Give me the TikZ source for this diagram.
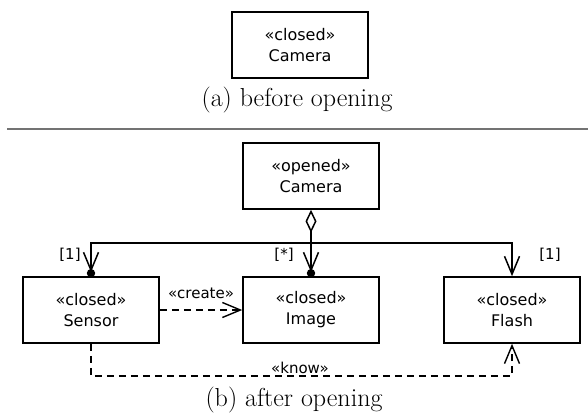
\documentclass[tikz,border=0pt]{standalone}
\usepackage{fontspec}
\newfontfamily\umlfont{DejaVu Sans}
\usetikzlibrary{arrows.meta,positioning}
\tikzset{
  class/.style={draw, line width=1.6pt, minimum width=136pt, minimum height=66pt,
    align=center, font=\umlfont\fontsize{16}{21}\selectfont},
  stereo/.style={font=\umlfont\fontsize{15}{17}\selectfont, inner sep=1pt},
  caption/.style={font=\fontsize{26}{30}\selectfont},
  conn/.style={line width=1.5pt},
  dep/.style={line width=1.4pt, dash pattern=on 7pt off 5pt},
  vtip/.style={-{Straight Barb[length=18pt,width=15pt]}},
}
\begin{document}
\begin{tikzpicture}[x=1pt,y=-1pt]
\useasboundingbox (0,0) rectangle (588,417);
% (a) before opening
\node[class] (camA) at (300,45) {«closed»\\Camera};
\node[caption] (capA) at (297,100) {(a) before opening};
\draw[line width=1.5pt, black!55] (7,129) -- (588,129);
% (b) after opening
\node[class] (camB) at (311,176) {«opened»\\Camera};
\node[class] (sensor) at (91,310) {«closed»\\Sensor};
\node[class] (image) at (311,310) {«closed»\\Image};
\node[class] (flash) at (512,310) {«closed»\\Flash};
\coordinate (hub) at (311,243);
% composition
\draw[conn, {Diamond[open,length=23pt,width=11pt]}-{Straight Barb[length=18pt,width=15pt]}, shorten >=4pt] (camB.south) -- (image.north);
\draw[conn, vtip, shorten >=4pt] (hub) -| (sensor.north);
\draw[conn, vtip] (hub) -| (flash.north);
\fill ([yshift=3pt]sensor.north) circle (4.2);
\fill ([yshift=3pt]image.north) circle (4.2);
\node[stereo] (m1) at (70,255) {[1]};
\node[stereo] (m2) at (284,255) {[*]};
\node[stereo] (m3) at (550,255) {[1]};
% dependencies
\draw[dep, vtip] (sensor.east) -- (image.west) node[stereo, midway, above=10pt] (create) {«create»};
\coordinate (k1) at (91,376);
\coordinate (k2) at (512,376);
\draw[dep, vtip] (sensor.south) -- (k1) -- (k2) -- (flash.south);
\node[stereo, above=1pt] (know) at (300,376) {«know»};
\node[caption] (capB) at (294,400) {(b) after opening};
\end{tikzpicture}
\end{document}
